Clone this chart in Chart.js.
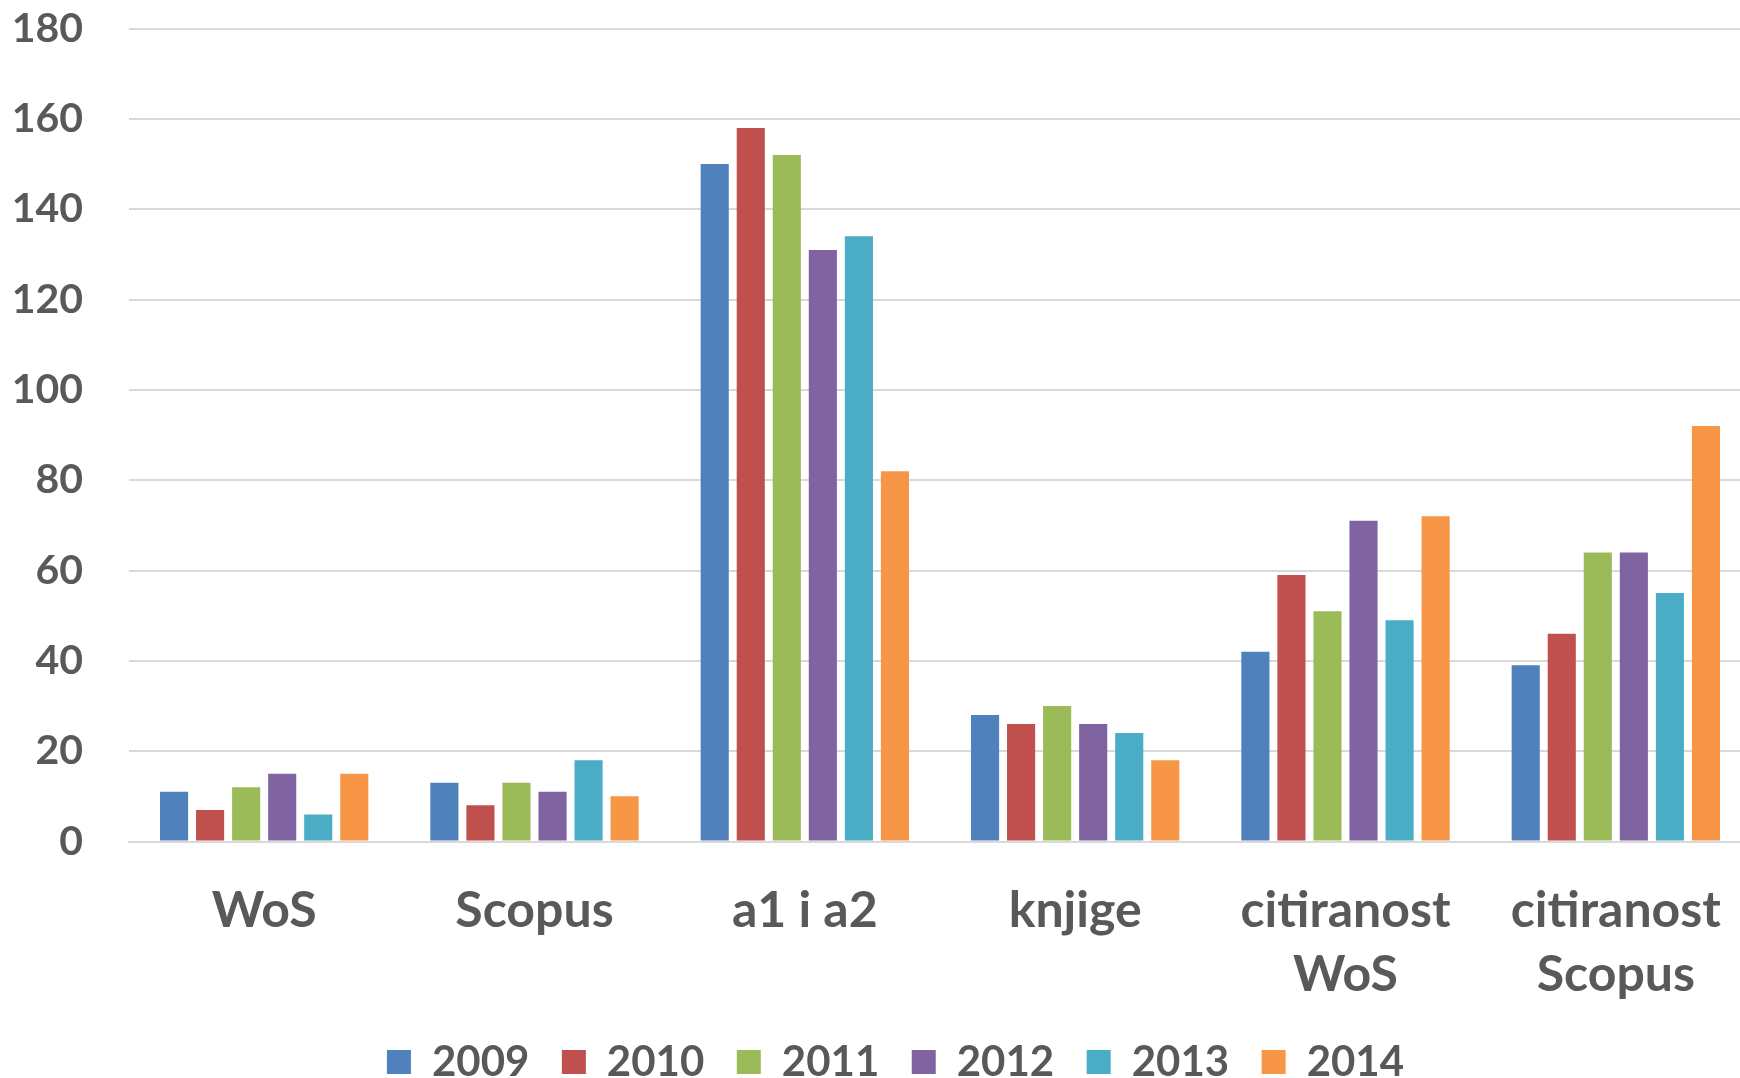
<!DOCTYPE html>
<html lang="en">
<head>
    <meta charset="UTF-8">
    <title>Publikacije i citiranost</title>
    <script src="https://cdn.jsdelivr.net/npm/chart.js"></script>
    <style>
        html, body { margin: 0; padding: 0; background: #fff; overflow: hidden; }
        #wrap { width: 1740px; height: 1078px; overflow: hidden; }
    </style>
</head>
<body>
    <div id="wrap">
        <!-- plot runs slightly past the right edge, as in the original -->
        <canvas id="pubChart" width="1751" height="1078"></canvas>
    </div>

    <script>
        // Categories and yearly series
        const categories = ['WoS', 'Scopus', 'a1 i a2', 'knjige', ['citiranost', 'WoS'], ['citiranost', 'Scopus']];
        const years = ['2009', '2010', '2011', '2012', '2013', '2014'];
        const s2009 = [11, 13, 150, 28, 42, 39];
        const s2010 = [7, 8, 158, 26, 59, 46];
        const s2011 = [12, 13, 152, 30, 51, 64];
        const s2012 = [15, 11, 131, 26, 71, 64];
        const s2013 = [6, 18, 134, 24, 49, 55];
        const s2014 = [15, 10, 82, 18, 72, 92];
        const yTicks = [0, 20, 40, 60, 80, 100, 120, 140, 160, 180];

        const series = [s2009, s2010, s2011, s2012, s2013, s2014];
        const colors = ['#4F81BD', '#C0504D', '#9BBB59', '#8064A2', '#4BACC6', '#F79646'];

        const textColor = '#595959';
        const gridColor = '#D9D9D9';
        const clear = 'rgba(0,0,0,0)';
        const fontFamily = 'Lato, "Open Sans", sans-serif';

        // nudge the legend a bit to the right, like the original
        const legendShift = {
            id: 'legendShift',
            afterLayout(chart) {
                chart.legend.left += 14;
                chart.legend.right += 14;
            }
        };

        const ctx = document.getElementById('pubChart').getContext('2d');
        const pubChart = new Chart(ctx, {
            type: 'bar',
            data: {
                labels: categories,
                datasets: years.map((y, i) => ({
                    label: y,
                    data: series[i],
                    backgroundColor: colors[i],
                    borderWidth: 0,
                    barPercentage: 0.78,
                    categoryPercentage: 0.8
                }))
            },
            plugins: [legendShift],
            options: {
                responsive: false,
                animation: false,
                devicePixelRatio: 1,
                layout: {
                    padding: { left: 12, right: 0, top: 0, bottom: -15 }
                },
                plugins: {
                    tooltip: { enabled: false },
                    legend: {
                        position: 'bottom',
                        labels: {
                            color: textColor,
                            boxWidth: 24,
                            boxHeight: 24,
                            padding: 32.5,
                            font: { family: fontFamily, size: 42, weight: 'bold', lineHeight: 1.2 }
                        }
                    }
                },
                scales: {
                    x: {
                        afterFit: scale => { scale.height = 167; },
                        // invisible tick marks keep the labels away from the axis line
                        grid: { display: true, drawOnChartArea: false, drawTicks: true, tickLength: 33, tickColor: clear },
                        border: { display: true, color: gridColor, width: 2 },
                        ticks: {
                            color: textColor,
                            padding: 4,
                            maxRotation: 0,
                            autoSkip: false,
                            font: { family: fontFamily, size: 50, weight: 'bold', lineHeight: 1.28 }
                        }
                    },
                    y: {
                        min: 0,
                        max: 180,
                        afterFit: scale => { scale.width = 117; },
                        afterBuildTicks: scale => { scale.ticks = yTicks.map(v => ({ value: v })); },
                        grid: { color: gridColor, lineWidth: 2, drawTicks: true, tickLength: 42, tickColor: clear },
                        border: { display: false },
                        ticks: {
                            color: textColor,
                            padding: 4,
                            font: { family: fontFamily, size: 41, weight: 'bold' }
                        }
                    }
                }
            }
        });
    </script>
</body>
</html>
